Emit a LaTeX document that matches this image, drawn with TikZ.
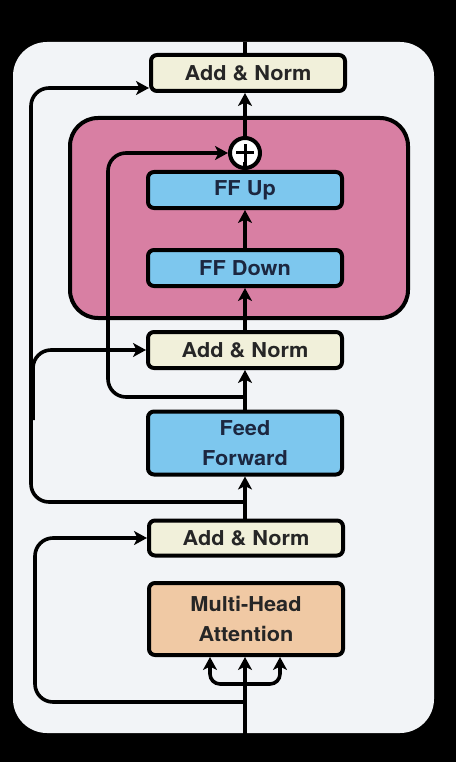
\documentclass[tikz,border=0pt]{standalone}
\usepackage{fontspec}
\setmainfont{TeX Gyre Heros}[FakeStretch=1.06]
\usetikzlibrary{arrows.meta,calc}
\definecolor{panel}{HTML}{F2F4F7}
\definecolor{normfill}{HTML}{F1F0DA}
\definecolor{bluefill}{HTML}{7DC7EE}
\definecolor{peach}{HTML}{F0C9A4}
\definecolor{pinkfill}{HTML}{D87FA3}
\definecolor{navy}{HTML}{1C2740}
\tikzset{
  every node/.style={font=\fontsize{20.5}{30}\selectfont\bfseries},
  blk/.style={draw=black, line width=4pt, rounded corners=6pt, minimum width=194pt, align=center, inner sep=0pt},
  normbox/.style={blk, fill=normfill, minimum height=36pt, text=black!85},
  ffbox/.style={blk, fill=bluefill, minimum height=36pt, text=navy},
  arr/.style={line width=3.6pt, -{Stealth[length=13pt,width=14pt,inset=3.5pt]}},
  ln/.style={line width=3.6pt},
}
\begin{document}
\begin{tikzpicture}[x=1pt,y=-1pt]
\useasboundingbox (0,0) rectangle (456,762);
\fill[black] (0,0) rectangle (456,762);
\fill[panel, rounded corners=34pt] (13,42) rectangle (434,733);
\draw[fill=pinkfill, line width=4pt, rounded corners=28pt] (70,118) rectangle (408,318);

\node[normbox] (an3) at (248,73) {Add \& Norm};
\node[circle, draw=black, fill=white, line width=4pt, minimum size=30pt, inner sep=0pt] (plus) at (245,153) {};
\draw[line width=3pt] ([xshift=-9pt]plus.center) -- ([xshift=9pt]plus.center)
  ([yshift=-9pt]plus.center) -- ([yshift=9pt]plus.center);
\node[ffbox] (ffup) at (245,190) {FF Up};
\node[ffbox] (ffdown) at (245,268) {FF Down};
\node[normbox] (an2) at (245,350) {Add \& Norm};
\node[blk, fill=bluefill, minimum height=63pt, text=navy] (ff) at (245,443) {Feed\\Forward};
\node[normbox, minimum height=35pt] (an1) at (246,538) {Add \& Norm};
\node[blk, fill=peach, minimum height=72pt, text=black!85] (mha) at (246,619) {Multi-Head\\Attention};

\coordinate (in) at (245,762);
\coordinate (out) at (245,42);
\coordinate (split0) at (245,684);
\coordinate (res0) at (245,702);
\coordinate (res1) at (245,502);
\coordinate (res2) at (245,397);

% input and attention branches
\draw[arr] (in) -- (mha.south -| in);
\draw[arr, rounded corners=10pt] (split0) -| ([xshift=-35pt]mha.south -| in);
\draw[arr, rounded corners=10pt] (split0) -| ([xshift=35pt]mha.south -| in);
% residual around attention
\draw[arr, rounded corners=18pt] (res0) -| ([xshift=-112pt]an1.west) -- (an1.west);
\draw[arr] (an1.north -| in) -- (ff.south -| in);
% outer residuals
\draw[arr, rounded corners=18pt] (res1) -| ([xshift=-118pt,yshift=-15pt]an3.west) -- ([yshift=-15pt]an3.west);
\draw[arr, rounded corners=18pt] (33,420) |- (an2.west);
\draw[arr] (ff.north -| in) -- (an2.south -| in);
% adapter
\draw[arr, rounded corners=18pt] (res2) -| (108,153) -- (plus.west);
\draw[arr] (an2.north -| in) -- (ffdown.south -| in);
\draw[arr] (ffdown.north -| in) -- (ffup.south -| in);
\draw[ln] ([yshift=8pt]ffup.north -| in) -- (plus.south);
\draw[arr] (plus.north) -- (an3.south -| in);
\draw[ln] (an3.north -| in) -- (out);
\end{tikzpicture}
\end{document}
